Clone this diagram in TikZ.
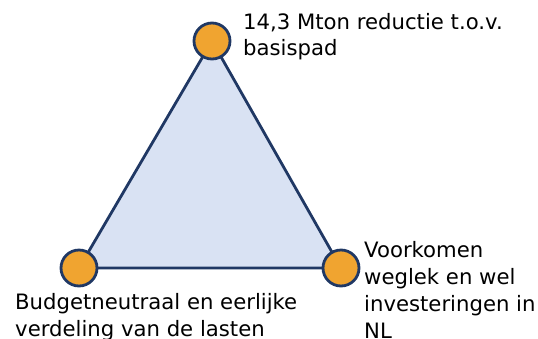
\documentclass[tikz,border=0pt]{standalone}
\usepackage{fontspec}
\setmainfont{DejaVu Sans}
\definecolor{edge}{HTML}{203864}
\definecolor{tri}{HTML}{D9E2F3}
\definecolor{dot}{HTML}{F0A430}
\tikzset{
  corner/.style={circle, draw=edge, line width=2.8pt, fill=dot, minimum size=36pt, inner sep=0pt},
  label/.style={anchor=base west, align=left, inner sep=0pt, font=\fontsize{21.2}{27}\selectfont, text=black},
}
\begin{document}
\begin{tikzpicture}[x=1pt,y=-1pt]
\useasboundingbox (0,0) rectangle (538,338);
\coordinate (T) at (212,41);
\coordinate (L) at (79,268);
\coordinate (R) at (341,268);
\draw[edge, line width=2.8pt, fill=tri, line join=round] (T) -- (L) -- (R) -- cycle;
\node[corner] (top) at (T) {};
\node[corner] (bl) at (L) {};
\node[corner] (br) at (R) {};
\node[label, font=\fontsize{21.2}{26}\selectfont] (ttop) at (243,55) {14,3 Mton reductie t.o.v.\\basispad};
\node[label] (tbl) at (15,336) {Budgetneutraal en eerlijke\\verdeling van de lasten};
\node[label] (tbr) at (364,338.5) {Voorkomen\\weglek en wel\\investeringen in\\NL};
\end{tikzpicture}
\end{document}
